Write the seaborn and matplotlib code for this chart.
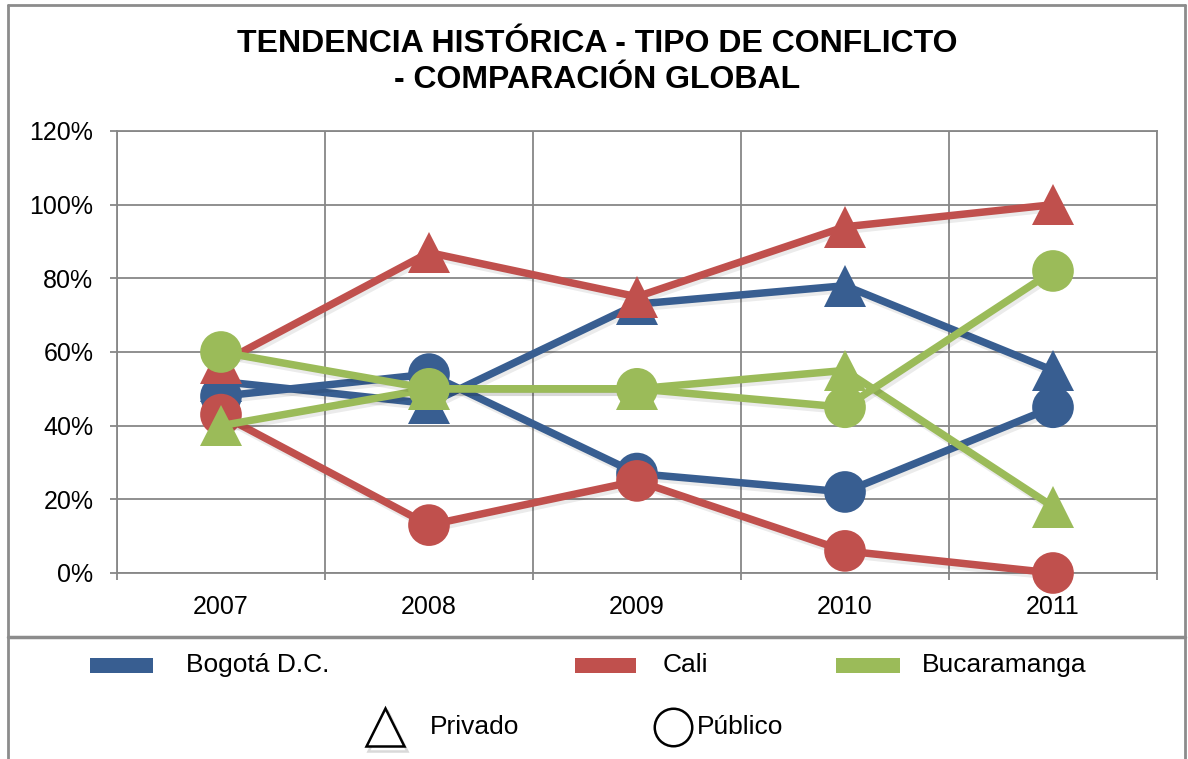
import matplotlib
matplotlib.use("Agg")
import matplotlib.pyplot as plt
import matplotlib.patheffects as pe
from matplotlib.patches import Rectangle
from matplotlib.lines import Line2D
from matplotlib.ticker import FixedLocator, PercentFormatter
import pandas as pd
import seaborn as sns

# Share of conflicts by type, per city and year
years = ["2007", "2008", "2009", "2010", "2011"]
bogota_privado = [0.52, 0.46, 0.73, 0.78, 0.55]
bogota_publico = [0.48, 0.54, 0.27, 0.22, 0.45]
cali_privado = [0.57, 0.87, 0.75, 0.94, 1.00]
cali_publico = [0.43, 0.13, 0.25, 0.06, 0.00]
bucaramanga_privado = [0.40, 0.50, 0.50, 0.55, 0.18]
bucaramanga_publico = [0.60, 0.50, 0.50, 0.45, 0.82]

cities = ["Bogotá D.C.", "Cali", "Bucaramanga"]
types = ["Privado", "Público"]
city_colors = ["#385E91", "#C0504D", "#9BBB59"]
y_ticks = [0.0, 0.2, 0.4, 0.6, 0.8, 1.0, 1.2]

series = {
    ("Bogotá D.C.", "Privado"): bogota_privado,
    ("Bogotá D.C.", "Público"): bogota_publico,
    ("Cali", "Privado"): cali_privado,
    ("Cali", "Público"): cali_publico,
    ("Bucaramanga", "Privado"): bucaramanga_privado,
    ("Bucaramanga", "Público"): bucaramanga_publico,
}
rows = []
for (city, kind), vals in series.items():
    for i, (yr, v) in enumerate(zip(years, vals)):
        rows.append({"pos": i, "year": yr, "city": city, "tipo": kind, "share": v})
df = pd.DataFrame(rows)

sns.set_style("white")
plt.rcParams["font.family"] = ["Liberation Sans", "DejaVu Sans"]
plt.rcParams["text.color"] = "black"
plt.rcParams["xtick.color"] = "black"
plt.rcParams["ytick.color"] = "black"

W, H = 1188, 759
fig = plt.figure(figsize=(W / 100, H / 100), dpi=100)
ax = fig.add_axes([117 / W, 1 - 573 / H, (1157 - 117) / W, (573 - 131) / H])

grid_c = "#878787"
sns.lineplot(
    data=df, x="pos", y="share", hue="city", style="tipo",
    hue_order=cities, style_order=types, palette=city_colors,
    markers={"Privado": "^", "Público": "o"}, dashes=False,
    markersize=30, linewidth=5.4, markeredgewidth=0,
    legend=False, ax=ax, zorder=3,
)
shadow = [pe.SimpleLineShadow(offset=(1.5, -2.5), shadow_color="#000000", alpha=0.08), pe.Normal()]
for ln in ax.get_lines():
    ln.set_path_effects(shadow)
    ln.set_solid_capstyle("butt")
    ln.set_clip_on(False)

ax.set_xlim(-0.5, len(years) - 0.5)
ax.set_ylim(0, 1.2)
ax.xaxis.set_major_locator(FixedLocator(range(len(years))))
ax.set_xticklabels(years)
ax.xaxis.set_minor_locator(FixedLocator([i - 0.5 for i in range(len(years) + 1)]))
ax.yaxis.set_major_locator(FixedLocator(y_ticks))
ax.yaxis.set_major_formatter(PercentFormatter(1.0, decimals=0))
ax.set_xlabel("")
ax.set_ylabel("")

ax.grid(False)
ax.grid(True, axis="y", which="major", color=grid_c, lw=1.3)
ax.grid(True, axis="x", which="minor", color=grid_c, lw=1.3)
for sp in ax.spines.values():
    sp.set_visible(True)
    sp.set_color(grid_c)
    sp.set_linewidth(1.3)

ax.tick_params(axis="x", which="major", length=0, pad=16, labelsize=18, labelcolor="black")
ax.tick_params(axis="x", which="minor", bottom=True, length=5, width=1.3, color=grid_c, direction="out")
ax.tick_params(axis="y", which="major", left=True, length=5, width=1.3, color=grid_c,
               direction="out", pad=12, labelsize=18, labelcolor="black")

# Title
fig.text(597 / W, 1 - 62 / H, "TENDENCIA HISTÓRICA - TIPO DE CONFLICTO\n- COMPARACIÓN GLOBAL",
         ha="center", va="center", fontsize=23, fontweight="bold", linespacing=1.25,
         color="black")

# Outer frame and separator between chart and legend
frame_c = "#8C8C8C"
fig.add_artist(Line2D([8 / W, 8 / W], [1 - 5 / H, 0], transform=fig.transFigure, color=frame_c, lw=2))
fig.add_artist(Line2D([1185 / W, 1185 / W], [1 - 5 / H, 0], transform=fig.transFigure, color=frame_c, lw=2))
fig.add_artist(Line2D([8 / W, 1185 / W], [1 - 5 / H, 1 - 5 / H], transform=fig.transFigure, color=frame_c, lw=2))
fig.add_artist(Line2D([8 / W, 1185 / W], [1 - 637 / H, 1 - 637 / H], transform=fig.transFigure, color=frame_c, lw=2.5))

# Legend: city colours
swatches = [(90, 153, 186), (575, 636, 663), (836, 900, 922)]
for (x0, x1, tx), name, col in zip(swatches, cities, city_colors):
    fig.add_artist(Rectangle((x0 / W, 1 - 673 / H), (x1 - x0) / W, 15 / H,
                             transform=fig.transFigure, color=col, lw=0))
    fig.text(tx / W, 1 - 665 / H, name, ha="left", va="center", fontsize=19, color="black")

# Legend: conflict type markers
fig.add_artist(Line2D([385 / W], [1 - 727 / H], transform=fig.transFigure, marker="^",
                      markersize=28, markerfacecolor="white", markeredgecolor="black",
                      markeredgewidth=1.8, linestyle="none",
                      path_effects=[pe.SimpleLineShadow(offset=(2, -3), alpha=0.15), pe.Normal()]))
fig.text(430 / W, 1 - 727 / H, "Privado", ha="left", va="center", fontsize=19, color="black")
fig.add_artist(Line2D([673 / W], [1 - 727 / H], transform=fig.transFigure, marker="o",
                      markersize=27, markerfacecolor="white", markeredgecolor="black",
                      markeredgewidth=1.8, linestyle="none"))
fig.text(697 / W, 1 - 727 / H, "Público", ha="left", va="center", fontsize=19, color="black")

fig.savefig("out.png", dpi=100)
